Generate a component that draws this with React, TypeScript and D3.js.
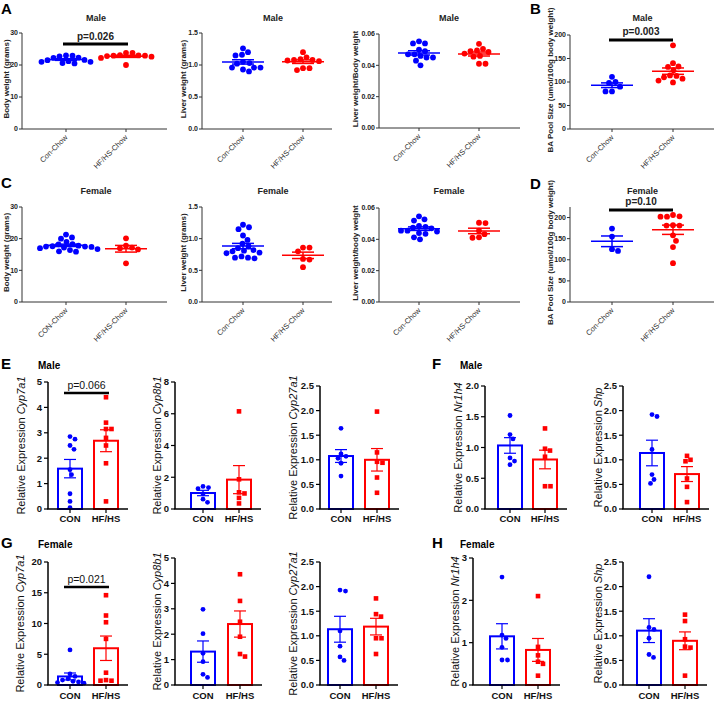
import React from "react";
import * as d3 from "d3";

// ---------- categories ----------
const chowCats = ["Con-Chow", "HF/HS-Chow"];
const chowCatsC1 = ["CON-Chow", "HF/HS-Chow"];
const exprCats = ["CON", "HF/HS"];

// ---------- A: male ----------
const maleBodyCon = [23.0, 22.7, 22.3, 22.9, 22.2, 21.6, 21.5, 21.2, 21.0, 20.6, 20.5, 21.0];
const maleBodyHF = [23.8, 22.9, 22.9, 23.0, 23.1, 22.8, 22.6, 23.8, 22.2, 20.0];
const maleLiverCon = [1.26, 1.16, 1.15, 1.2, 1.03, 1.05, 1.02, 0.96, 0.96, 0.96, 0.93, 0.9];
const maleLiverHF = [1.12, 1.2, 1.08, 1.07, 1.06, 1.08, 1.09, 0.92, 0.95, 0.95];
const maleRatioCon = [0.0553, 0.054, 0.054, 0.05, 0.049, 0.047, 0.047, 0.046, 0.045, 0.045, 0.043, 0.04];
const maleRatioHF = [0.0537, 0.0505, 0.0495, 0.049, 0.0485, 0.0475, 0.046, 0.0455, 0.041, 0.041];
// ---------- B ----------
const maleBACon = [111, 100, 98, 90, 80, 80];
const maleBAHF = [178, 140, 133, 132, 125, 114, 113, 110, 107, 103, 99];
// ---------- C: female ----------
const femBodyCon = [21.3, 20.4, 20.0, 19.0, 18.3, 18.2, 17.8, 17.6, 17.5, 17.4, 17.5, 17.2, 17.0, 16.7, 16.4, 16.0, 15.9];
const femBodyHF = [20.1, 17.8, 17.2, 17.0, 16.6, 12.2];
const femLiverCon = [1.22, 1.18, 1.15, 1.05, 0.98, 0.92, 0.88, 0.85, 0.82, 0.81, 0.8, 0.78, 0.77, 0.72, 0.7, 0.69, 0.7];
const femLiverHF = [0.86, 0.86, 0.8, 0.68, 0.67, 0.55];
const femRatioCon = [0.0547, 0.052, 0.0528, 0.0485, 0.048, 0.0475, 0.047, 0.0455, 0.0455, 0.045, 0.0435, 0.044, 0.0413, 0.04];
const femRatioHF = [0.0506, 0.0504, 0.0455, 0.0433, 0.0413, 0.041];
// ---------- D ----------
const femBACon = [174, 155, 125, 121];
const femBAHF = [206, 202, 202, 203, 182, 181, 181, 158, 145, 130, 92];

// ---------- E / F: male expression ----------
const mCyp7a1Con = [2.85, 2.75, 2.5, 2.35, 1.55, 1.35, 0.6, 0.3, 0.05];
const mCyp7a1HF = [4.4, 3.4, 3.15, 3.15, 2.8, 2.5, 1.8, 0.3];
const mCyp8b1Con = [1.42, 1.35, 1.28, 0.95, 0.62, 0.42];
const mCyp8b1HF = [6.15, 1.87, 1.05, 0.98, 0.7, 0.35];
const mCyp27a1Con = [1.64, 1.12, 1.07, 1.03, 0.93, 0.67];
const mCyp27a1HF = [1.98, 1.15, 0.96, 0.94, 0.64, 0.33];
const mNr1h4Con = [1.52, 1.21, 1.14, 0.83, 0.78, 0.72];
const mNr1h4HF = [1.31, 0.98, 0.95, 0.85, 0.37, 0.37];
const mShpCon = [1.88, 1.92, 1.21, 0.7, 0.6, 0.52];
const mShpHF = [1.08, 1.0, 0.97, 0.62, 0.45, 0.14];
// ---------- G / H: female expression ----------
const fCyp7a1Con = [5.7, 1.8, 1.4, 1.0, 0.8, 0.6, 0.5, 0.4, 0.3];
const fCyp7a1HF = [14.6, 11.3, 10.2, 7.5, 2.0, 0.8, 0.7, 0.7];
const fCyp8b1Con = [2.98, 2.02, 1.25, 0.92, 0.42, 0.3];
const fCyp8b1HF = [4.36, 3.31, 2.49, 1.9, 1.22, 1.12];
const fCyp27a1Con = [1.91, 1.93, 1.1, 0.79, 0.57, 0.5];
const fCyp27a1HF = [1.76, 1.44, 1.39, 0.95, 0.95, 0.63];
const fNr1h4Con = [2.55, 1.18, 1.1, 0.89, 0.59, 0.59];
const fNr1h4HF = [2.1, 0.9, 0.7, 0.55, 0.5, 0.22];
const fShpCon = [2.2, 1.17, 1.13, 0.95, 0.62, 0.56];
const fShpHF = [1.43, 1.3, 0.93, 0.78, 0.76, 0.19];

// ---------- tick values ----------
const ticksBody = [0, 10, 20, 30];
const ticksLiver = [0, 0.5, 1.0, 1.5];
const ticksRatio = [0, 0.02, 0.04, 0.06];
const ticksBA = [0, 50, 100, 150, 200];

const FONT = "'Liberation Sans', Arial, Helvetica, sans-serif";
const BLUE = "#0000ff";
const RED = "#ff0000";

function sem(v: number[]) {
  return (d3.deviation(v) || 0) / Math.sqrt(v.length);
}

function swarm(vals: number[], y: (v: number) => number, r: number, cx: number) {
  const placed: { x: number; y: number }[] = [];
  const order = vals.map((_, i) => i).sort((a, b) => vals[b] - vals[a]);
  const out: { x: number; y: number }[] = new Array(vals.length);
  for (const i of order) {
    const py = y(vals[i]);
    let best = 0;
    for (let k = 0; k < 400; k++) {
      const off = (k % 2 === 1 ? 1 : -1) * Math.ceil(k / 2) * 0.5;
      if (placed.every((p) => Math.hypot(p.x - off, p.y - py) >= 2 * r + 0.4)) {
        best = off;
        break;
      }
    }
    placed.push({ x: best, y: py });
    out[i] = { x: cx + best, y: py };
  }
  return out;
}

type PVal = { text: string; textY: number; barY: number; x1: number; x2: number };

type ScatterProps = {
  ax: number;
  axEnd: number;
  yTop: number;
  yBot: number;
  max: number;
  ticks: number[];
  fmt: (n: number) => string;
  cx: [number, number];
  cats: string[];
  con: number[];
  hf: number[];
  title: string;
  titleY: number;
  ylabel: string;
  ylabelX: number;
  p?: PVal;
};

function Scatter(props: ScatterProps) {
  const { ax, axEnd, yTop, yBot, max, ticks, fmt, cx, cats, con, hf, title, titleY, ylabel, ylabelX, p } = props;
  const y = d3.scaleLinear().domain([0, max]).range([yBot, yTop]);
  const x = d3.scalePoint<string>().domain(cats).range(cx);
  const groups = [
    { vals: con, color: BLUE, c: x(cats[0])! },
    { vals: hf, color: RED, c: x(cats[1])! },
  ];
  const titleX = (cx[0] + cx[1]) / 2;
  return (
    <g fontFamily={FONT}>
      <text x={titleX} y={titleY} textAnchor="middle" fontSize={9} fontWeight="bold" fill="#222">
        {title}
      </text>
      <line x1={ax} x2={ax} y1={yBot} y2={y(max)} stroke="#333" strokeWidth={1} />
      <line x1={ax} x2={axEnd} y1={yBot} y2={yBot} stroke="#333" strokeWidth={1} />
      {ticks.map((t) => (
        <g key={t}>
          <line x1={ax - 3} x2={ax} y1={y(t)} y2={y(t)} stroke="#333" />
          <text x={ax - 4} y={y(t)} dy="0.35em" textAnchor="end" fontSize={7} fontWeight="bold" fill="#222">
            {fmt(t)}
          </text>
        </g>
      ))}
      {groups.map((g, i) => (
        <g key={i}>
          <line x1={g.c} x2={g.c} y1={yBot} y2={yBot + 3} stroke="#333" />
          <text
            transform={`translate(${g.c + 2},${yBot + 9}) rotate(-45)`}
            textAnchor="end"
            fontSize={7.5}
            fill="#333"
          >
            {cats[i]}
          </text>
        </g>
      ))}
      <text
        transform={`translate(${ylabelX},${(yBot + yTop) / 2 - 2}) rotate(-90)`}
        textAnchor="middle"
        dominantBaseline="central"
        fontSize={8}
        fontWeight="bold"
        fill="#222"
      >
        {ylabel}
      </text>
      {groups.map((g, i) => {
        const m = d3.mean(g.vals)!;
        const s = sem(g.vals);
        const pts = swarm(g.vals, y, 2.9, g.c);
        return (
          <g key={"d" + i}>
            {pts.map((pt, j) => (
              <circle key={j} cx={pt.x} cy={pt.y} r={2.9} fill={g.color} />
            ))}
            <line x1={g.c - 21} x2={g.c + 21} y1={y(m)} y2={y(m)} stroke={g.color} strokeWidth={1.5} />
            <line x1={g.c} x2={g.c} y1={y(m - s)} y2={y(m + s)} stroke={g.color} strokeWidth={1.5} />
            <line x1={g.c - 11} x2={g.c + 11} y1={y(m + s)} y2={y(m + s)} stroke={g.color} strokeWidth={1.5} />
            <line x1={g.c - 11} x2={g.c + 11} y1={y(m - s)} y2={y(m - s)} stroke={g.color} strokeWidth={1.5} />
          </g>
        );
      })}
      {p && (
        <g>
          <text x={(p.x1 + p.x2) / 2} y={p.textY} textAnchor="middle" fontSize={10} fontWeight="bold" fill="#222">
            {p.text}
          </text>
          <line x1={p.x1} x2={p.x2} y1={p.barY} y2={p.barY} stroke="#000" strokeWidth={3} />
        </g>
      )}
    </g>
  );
}

type BarProps = {
  ax: number;
  cx: [number, number];
  yTop: number;
  yBot: number;
  max: number;
  ticks: number[];
  fmt: (n: number) => string;
  con: number[];
  hf: number[];
  gene: string;
  ylabelOff: number;
  xlabelY: number;
  p?: PVal;
};

function BarPanel(props: BarProps) {
  const { ax, cx, yTop, yBot, max, ticks, fmt, con, hf, gene, ylabelOff, xlabelY, p } = props;
  const y = d3.scaleLinear().domain([0, max]).range([yBot, yTop]);
  const x = d3.scalePoint<string>().domain(exprCats).range(cx);
  const bw = 24;
  const axEnd = cx[1] + 22;
  const groups = [
    { vals: con, color: BLUE, c: x(exprCats[0])!, square: false },
    { vals: hf, color: RED, c: x(exprCats[1])!, square: true },
  ];
  return (
    <g fontFamily={FONT}>
      {groups.map((g, i) => {
        const m = d3.mean(g.vals)!;
        const s = sem(g.vals);
        const pts = swarm(g.vals, y, 2.4, g.c);
        return (
          <g key={i}>
            <rect
              x={g.c - bw / 2}
              y={y(m)}
              width={bw}
              height={yBot - y(m)}
              fill="#fff"
              stroke={g.color}
              strokeWidth={2}
            />
            <line x1={g.c} x2={g.c} y1={y(m - s)} y2={y(m + s)} stroke={g.color} strokeWidth={1.2} />
            <line x1={g.c - 6} x2={g.c + 6} y1={y(m + s)} y2={y(m + s)} stroke={g.color} strokeWidth={1.2} />
            <line x1={g.c - 6} x2={g.c + 6} y1={y(m - s)} y2={y(m - s)} stroke={g.color} strokeWidth={1.2} />
            {pts.map((pt, j) =>
              g.square ? (
                <rect key={j} x={pt.x - 2.3} y={pt.y - 2.3} width={4.6} height={4.6} fill={g.color} />
              ) : (
                <circle key={j} cx={pt.x} cy={pt.y} r={2.4} fill={g.color} />
              )
            )}
          </g>
        );
      })}
      <line x1={ax} x2={ax} y1={yBot} y2={yTop} stroke="#000" strokeWidth={1.5} />
      <line x1={ax - 0.75} x2={axEnd} y1={yBot} y2={yBot} stroke="#000" strokeWidth={1.5} />
      {ticks.map((t) => (
        <g key={t}>
          <line x1={ax - 4} x2={ax} y1={y(t)} y2={y(t)} stroke="#000" strokeWidth={1.2} />
          <text x={ax - 6} y={y(t)} dy="0.35em" textAnchor="end" fontSize={9.5} fontWeight="bold" fill="#111">
            {fmt(t)}
          </text>
        </g>
      ))}
      {groups.map((g, i) => (
        <g key={"x" + i}>
          <line x1={g.c} x2={g.c} y1={yBot} y2={yBot + 4} stroke="#000" strokeWidth={1.2} />
          <text x={g.c} y={xlabelY} textAnchor="middle" fontSize={9.5} fontWeight="bold" fill="#111">
            {exprCats[i]}
          </text>
        </g>
      ))}
      <text
        transform={`translate(${ax - ylabelOff},${(yBot + yTop) / 2}) rotate(-90)`}
        textAnchor="middle"
        dominantBaseline="central"
        fontSize={11}
        fill="#111"
      >
        Relative Expression <tspan fontStyle="italic">{gene}</tspan>
      </text>
      {p && (
        <g>
          <text x={(p.x1 + p.x2) / 2} y={p.textY} textAnchor="middle" fontSize={10.5} fill="#111">
            {p.text}
          </text>
          <line x1={p.x1} x2={p.x2} y1={p.barY} y2={p.barY} stroke="#000" strokeWidth={2.5} />
        </g>
      )}
    </g>
  );
}

const f0 = d3.format("d");
const f1 = d3.format(".1f");
const f2 = d3.format(".2f");

function Letter({ x, y, t }: { x: number; y: number; t: string }) {
  return (
    <text x={x} y={y} fontFamily={FONT} fontSize={15} fontWeight="bold" fill="#000">
      {t}
    </text>
  );
}

function SubTitle({ x, y, t }: { x: number; y: number; t: string }) {
  return (
    <text x={x} y={y} fontFamily={FONT} fontSize={10} fontWeight="bold" fill="#000">
      {t}
    </text>
  );
}

export default function App() {
  const r1 = { yTop: 33, yBot: 129 };
  const r2 = { yTop: 207, yBot: 302 };
  return (
    <svg
      width={716}
      height={702}
      viewBox="0 0 716 702"
      style={{ position: "absolute", left: 0, top: 0, background: "#fff" }}
    >
      <rect width={716} height={702} fill="#fff" />
      {/* Row 1 */}
      <Letter x={1} y={14} t="A" />
      <Letter x={530} y={14} t="B" />
      <Scatter
        ax={22} axEnd={167} {...r1} max={30} ticks={ticksBody} fmt={f0} cx={[66, 126]} cats={chowCats}
        con={maleBodyCon} hf={maleBodyHF} title="Male" titleY={21} ylabel="Body weight (grams)" ylabelX={6}
        p={{ text: "p=0.026", textY: 40, barY: 44, x1: 63, x2: 128 }}
      />
      <Scatter
        ax={202} axEnd={332} {...r1} max={1.5} ticks={ticksLiver} fmt={f1} cx={[243, 303]} cats={chowCats}
        con={maleLiverCon} hf={maleLiverHF} title="Male" titleY={21} ylabel="Liver weight (grams)" ylabelX={183}
      />
      <Scatter
        ax={379} axEnd={520} yTop={34} yBot={128} max={0.06} ticks={ticksRatio} fmt={f2} cx={[419, 479]} cats={chowCats}
        con={maleRatioCon} hf={maleRatioHF} title="Male" titleY={21} ylabel="Liver weight/Body weight" ylabelX={355}
      />
      <Scatter
        ax={570} axEnd={714} yTop={35} yBot={129} max={200} ticks={ticksBA} fmt={f0} cx={[612, 673]} cats={chowCats}
        con={maleBACon} hf={maleBAHF} title="Male" titleY={21} ylabel="BA Pool Size (umol/100g body weight)" ylabelX={550}
        p={{ text: "p=0.003", textY: 35, barY: 40, x1: 609, x2: 673 }}
      />
      {/* Row 2 */}
      <Letter x={1} y={188} t="C" />
      <Letter x={530} y={189} t="D" />
      <Scatter
        ax={22} axEnd={167} {...r2} max={30} ticks={ticksBody} fmt={f0} cx={[66, 126]} cats={chowCatsC1}
        con={femBodyCon} hf={femBodyHF} title="Female" titleY={194} ylabel="Body weight (grams)" ylabelX={6}
      />
      <Scatter
        ax={202} axEnd={332} {...r2} max={1.5} ticks={ticksLiver} fmt={f1} cx={[243, 303]} cats={chowCats}
        con={femLiverCon} hf={femLiverHF} title="Female" titleY={194} ylabel="Liver weight (grams)" ylabelX={183}
      />
      <Scatter
        ax={379} axEnd={520} yTop={208} yBot={302} max={0.06} ticks={ticksRatio} fmt={f2} cx={[419, 479]} cats={chowCats}
        con={femRatioCon} hf={femRatioHF} title="Female" titleY={194} ylabel="Liver weight/body weight" ylabelX={355}
      />
      <Scatter
        ax={570} axEnd={714} yTop={207} yBot={302} max={225} ticks={ticksBA} fmt={f0} cx={[612, 673]} cats={chowCats}
        con={femBACon} hf={femBAHF} title="Female" titleY={194} ylabel="BA Pool Size (umol/100g body weight)" ylabelX={550}
        p={{ text: "p=0.10", textY: 205, barY: 210, x1: 609, x2: 673 }}
      />
      {/* Row 3 */}
      <Letter x={1} y={369} t="E" />
      <SubTitle x={38} y={369} t="Male" />
      <Letter x={432} y={369} t="F" />
      <SubTitle x={460} y={369} t="Male" />
      <BarPanel ax={48} cx={[70, 106]} yTop={382} yBot={509} max={5} ticks={[0, 1, 2, 3, 4, 5]} fmt={f0}
        con={mCyp7a1Con} hf={mCyp7a1HF} gene="Cyp7a1" ylabelOff={27} xlabelY={522}
        p={{ text: "p=0.066", textY: 389, barY: 393, x1: 64, x2: 109 }} />
      <BarPanel ax={175} cx={[203, 239]} yTop={382} yBot={509} max={8} ticks={[0, 2, 4, 6, 8]} fmt={f0}
        con={mCyp8b1Con} hf={mCyp8b1HF} gene="Cyp8b1" ylabelOff={18} xlabelY={522} />
      <BarPanel ax={320} cx={[341, 377]} yTop={386} yBot={509} max={2.5} ticks={[0, 0.5, 1, 1.5, 2, 2.5]} fmt={f1}
        con={mCyp27a1Con} hf={mCyp27a1HF} gene="Cyp27a1" ylabelOff={27} xlabelY={522} />
      <BarPanel ax={485} cx={[510, 545]} yTop={386} yBot={509} max={2} ticks={[0, 0.5, 1, 1.5, 2]} fmt={f1}
        con={mNr1h4Con} hf={mNr1h4HF} gene="Nr1h4" ylabelOff={27} xlabelY={522} />
      <BarPanel ax={623} cx={[652, 687]} yTop={386} yBot={509} max={2.5} ticks={[0, 0.5, 1, 1.5, 2, 2.5]} fmt={f1}
        con={mShpCon} hf={mShpHF} gene="Shp" ylabelOff={25} xlabelY={522} />
      {/* Row 4 */}
      <Letter x={1} y={548} t="G" />
      <SubTitle x={38} y={548} t="Female" />
      <Letter x={432} y={548} t="H" />
      <SubTitle x={460} y={548} t="Female" />
      <BarPanel ax={48} cx={[70, 106]} yTop={562} yBot={685} max={20} ticks={[0, 5, 10, 15, 20]} fmt={f0}
        con={fCyp7a1Con} hf={fCyp7a1HF} gene="Cyp7a1" ylabelOff={28} xlabelY={699}
        p={{ text: "p=0.021", textY: 583, barY: 587, x1: 64, x2: 109 }} />
      <BarPanel ax={175} cx={[203, 240]} yTop={558} yBot={685} max={5} ticks={[0, 1, 2, 3, 4, 5]} fmt={f0}
        con={fCyp8b1Con} hf={fCyp8b1HF} gene="Cyp8b1" ylabelOff={18} xlabelY={699} />
      <BarPanel ax={320} cx={[340, 376]} yTop={562} yBot={685} max={2.5} ticks={[0, 0.5, 1, 1.5, 2, 2.5]} fmt={f1}
        con={fCyp27a1Con} hf={fCyp27a1HF} gene="Cyp27a1" ylabelOff={27} xlabelY={699} />
      <BarPanel ax={473} cx={[502, 538]} yTop={558} yBot={685} max={3} ticks={[0, 1, 2, 3]} fmt={f0}
        con={fNr1h4Con} hf={fNr1h4HF} gene="Nr1h4" ylabelOff={18} xlabelY={699} />
      <BarPanel ax={623} cx={[649, 685]} yTop={562} yBot={685} max={2.5} ticks={[0, 0.5, 1, 1.5, 2, 2.5]} fmt={f1}
        con={fShpCon} hf={fShpHF} gene="Shp" ylabelOff={25} xlabelY={699} />
    </svg>
  );
}
